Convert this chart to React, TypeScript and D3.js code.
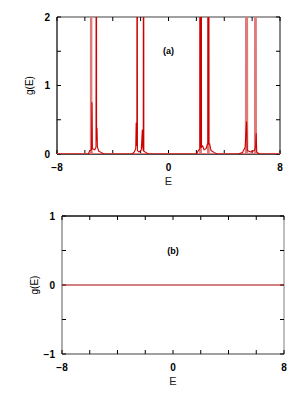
import * as d3 from 'd3'

// x axis (energy) ticks and labels
const energyTicks = [-8, -6, -4, -2, 0, 2, 4, 6, 8]
const energyLabels = [-8, 0, 8]

// panel (a): y ticks
const gTicksA = [0, 0.5, 1, 1.5, 2]
const gLabelsA = [0, 1, 2]
// panel (b): y ticks
const gTicksB = [-1, -0.5, 0, 0.5, 1]
const gLabelsB = [-1, 0, 1]

// panel (a): dark red curve
const redE = [
  -8, -5.75, -5.65, -5.52, -5.49, -5.46, -5.3, -5.2, -5.18, -5.16, -5.13, -5.1, -5.0, -4.8, -4.65,
  -2.6, -2.45, -2.35, -2.32, -2.3, -2.27, -2.25, -2.23, -2.1, -1.95, -1.88, -1.85, -1.81, -1.79, -1.77, -1.6, -1.45,
  2.0, 2.15, 2.25, 2.28, 2.31, 2.34, 2.37, 2.45, 2.55, 2.7, 2.8, 2.83, 2.86, 2.89, 2.95, 3.05, 3.3, 3.5,
  5.0, 5.3, 5.5, 5.6, 5.65, 5.9, 6.15, 6.25, 6.29, 6.33, 6.5, 8,
]
const redG = [
  0, 0, 0.05, 0.06, 0.75, 0.08, 0.06, 0.1, 8, 0.2, 0.38, 0.1, 0.04, 0.02, 0,
  0, 0.03, 0.08, 0.45, 0.28, 0.12, 8, 0.05, 0.03, 0.06, 0.35, 0.1, 0.05, 8, 0.04, 0.02, 0,
  0, 0.05, 0.08, 8, 0.1, 8, 0.1, 0.12, 0.06, 0.08, 0.15, 0.14, 8, 0.15, 0.15, 0.05, 0.02, 0,
  0, 0.02, 0.1, 0.47, 0.05, 0.03, 0.05, 0.1, 0.3, 0.03, 0, 0,
]

// panel (a): light red curve
const pinkE = [-8, -5.6, -5.57, -5.55, -5.53, -5.45, 2.27, 2.3, 2.33, 2.83, 2.86, 2.89, 5.55, 5.6, 5.65, 6.2, 6.24, 6.28, 8]
const pinkG = [0, 0, 0.04, 8, 0.04, 0, 0, 8, 0, 0, 8, 0, 0, 8, 0, 0, 8, 0, 0]

// panel (b): flat curve
const flatE = [-8, 8]
const flatG = [0, 0]

const FONT = 'Liberation Sans, Arial, sans-serif'

type Series = { e: number[]; g: number[]; color: string; width: number }
type Frame = { top: string; left: string; right: string; bottom: string }

type PanelProps = {
  id: string
  left: number
  top: number
  width: number
  height: number
  yDomain: [number, number]
  yTicks: number[]
  yLabels: number[]
  tag: string
  frame: Frame
  series: Series[]
}

const fmt = (v: number) => (v < 0 ? '\u2212' + Math.abs(v) : String(v))

const Panel = ({ id, left, top, width, height, yDomain, yTicks, yLabels, tag, frame, series }: PanelProps) => {
  const x = d3.scaleLinear().domain([-8, 8]).range([0, width])
  const y = d3.scaleLinear().domain(yDomain).range([height, 0])
  const line = d3
    .line<[number, number]>()
    .x((d) => x(d[0]))
    .y((d) => y(d[1]))
  const tk = 4

  return (
    <g transform={`translate(${left},${top})`}>
      <defs>
        <clipPath id={`clip-${id}`}>
          <rect x={0} y={0} width={width} height={height} />
        </clipPath>
      </defs>
      {/* frame */}
      <line x1={0} x2={width} y1={0} y2={0} stroke={frame.top} strokeWidth={1.5} />
      <line x1={0} x2={0} y1={0} y2={height} stroke={frame.left} strokeWidth={1.3} />
      <line x1={width} x2={width} y1={0} y2={height} stroke={frame.right} strokeWidth={1} />
      <line x1={0} x2={width} y1={height} y2={height} stroke={frame.bottom} strokeWidth={1.3} />
      {/* x ticks top & bottom */}
      {energyTicks.map((t) => (
        <g key={'x' + t}>
          <line x1={x(t)} x2={x(t)} y1={height} y2={height - tk} stroke="#000" />
          <line x1={x(t)} x2={x(t)} y1={0} y2={tk} stroke="#000" />
        </g>
      ))}
      {/* y ticks left & right */}
      {yTicks.map((t) => (
        <g key={'y' + t}>
          <line x1={0} x2={tk} y1={y(t)} y2={y(t)} stroke="#000" />
          <line x1={width} x2={width - tk} y1={y(t)} y2={y(t)} stroke="#000" />
        </g>
      ))}
      {/* curves */}
      <g clipPath={`url(#clip-${id})`}>
        {series.map((s, i) => (
          <path
            key={i}
            d={line(s.e.map((e, j) => [e, s.g[j]] as [number, number])) || ''}
            fill="none"
            stroke={s.color}
            strokeWidth={s.width}
            strokeLinejoin="round"
          />
        ))}
      </g>
      {/* tick labels */}
      {energyLabels.map((t) => (
        <text key={'xl' + t} x={x(t)} y={height + 17} textAnchor="middle" fontSize={10} fontWeight="bold" fontFamily={FONT} fill="#000">
          {fmt(t)}
        </text>
      ))}
      {yLabels.map((t) => (
        <text key={'yl' + t} x={-7} y={y(t) + 3.5} textAnchor="end" fontSize={10} fontWeight="bold" fontFamily={FONT} fill="#000">
          {fmt(t)}
        </text>
      ))}
      <text x={width / 2} y={height + 31} textAnchor="middle" fontSize={11} fontFamily={FONT} fill="#222">
        E
      </text>
      <text
        transform={`translate(${-24},${height / 2}) rotate(-90)`}
        textAnchor="middle"
        fontSize={10}
        fontFamily={FONT}
        fill="#000"
      >
        g(E)
      </text>
      <text x={x(0)} y={y(yDomain[0] + (yDomain[1] - yDomain[0]) * 0.75) + 3} textAnchor="middle" fontSize={9} fontWeight="bold" fontFamily={FONT} fill="#000">
        {tag}
      </text>
    </g>
  )
}

export default function App() {
  return (
    <svg width={308} height={400} style={{ display: 'block', position: 'absolute', left: 0, top: 0 }}>
      <rect width={308} height={400} fill="#fff" />
      <Panel
        id="a"
        left={57}
        top={17}
        width={223}
        height={137}
        yDomain={[0, 2]}
        yTicks={gTicksA}
        yLabels={gLabelsA}
        tag="(a)"
        frame={{ top: '#808080', left: '#111', right: '#111', bottom: '#111' }}
        series={[
          { e: pinkE, g: pinkG, color: '#e07a7a', width: 2 },
          { e: redE, g: redG, color: '#cc0000', width: 1.1 },
        ]}
      />
      <Panel
        id="b"
        left={62}
        top={216}
        width={222}
        height={138}
        yDomain={[-1, 1]}
        yTicks={gTicksB}
        yLabels={gLabelsB}
        tag="(b)"
        frame={{ top: '#111', left: '#808080', right: '#808080', bottom: '#808080' }}
        series={[{ e: flatE, g: flatG, color: '#aa0000', width: 1 }]}
      />
    </svg>
  )
}
